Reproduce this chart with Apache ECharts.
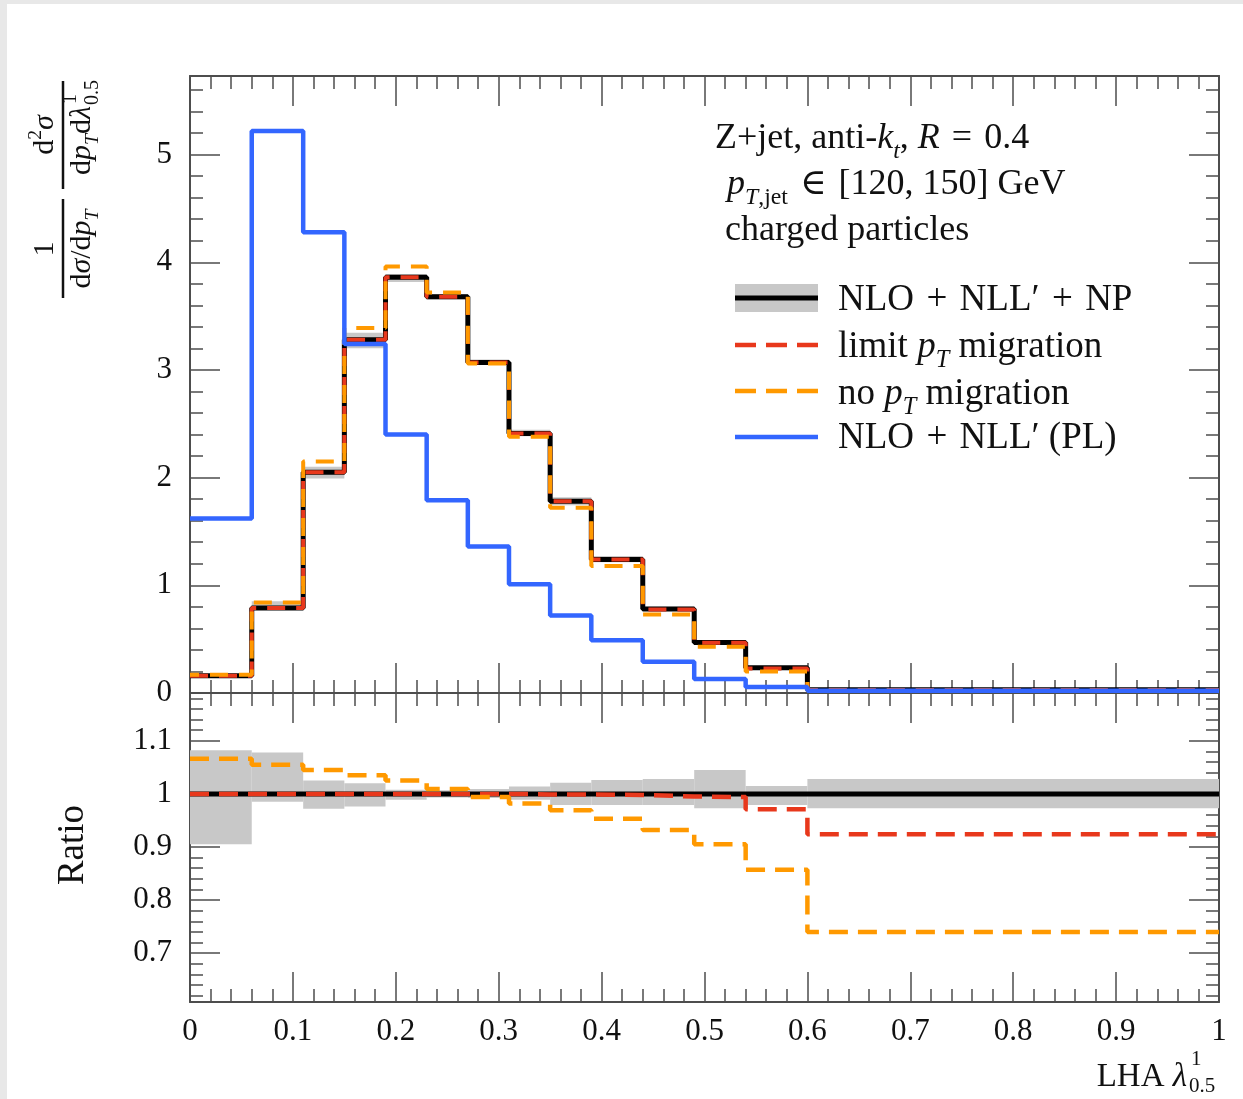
<!DOCTYPE html>
<html>
<head>
<meta charset="utf-8">
<script src="https://cdn.jsdelivr.net/npm/echarts@6/dist/echarts.min.js"></script>
<style>
  html, body { margin: 0; padding: 0; background: #e8e8e8; }
  #chart { width: 1243px; height: 1099px; }
</style>
</head>
<body>
<div id="chart"></div>
<script>
// bin edges of LHA lambda^1_0.5
const edges = [0, 0.06, 0.11, 0.15, 0.19, 0.23, 0.27, 0.31, 0.35, 0.39, 0.44, 0.49, 0.54, 0.60, 1.0];

// upper panel: 1/(dsigma/dpT) d2sigma/(dpT dlambda)
const nloNllNp    = [0.16, 0.79, 2.05, 3.28, 3.86, 3.68, 3.07, 2.41, 1.78, 1.24, 0.78, 0.47, 0.235, 0.03];
const limitPtMig  = [0.16, 0.79, 2.05, 3.28, 3.86, 3.68, 3.07, 2.41, 1.78, 1.24, 0.775, 0.467, 0.228, 0.028];
const noPtMig     = [0.17, 0.84, 2.15, 3.39, 3.96, 3.72, 3.06, 2.38, 1.72, 1.18, 0.73, 0.43, 0.20, 0.022];
const partonLevel = [1.62, 5.22, 4.28, 3.24, 2.40, 1.79, 1.36, 1.01, 0.72, 0.49, 0.29, 0.13, 0.055, 0.02];

// lower panel: ratio to NLO+NLL'+NP
const ratioNp    = [1, 1, 1, 1, 1, 1, 1, 1, 1, 1, 1, 1, 1, 1];
const ratioLimit = [1.0, 1.0, 1.0, 1.0, 1.0, 1.0, 1.0, 0.999, 0.999, 0.998, 0.995, 0.994, 0.971, 0.924];
const ratioNoMig = [1.066, 1.055, 1.045, 1.035, 1.025, 1.009, 0.994, 0.982, 0.969, 0.953, 0.932, 0.905, 0.857, 0.74];
const bandUp     = [1.082, 1.078, 1.025, 1.02, 1.008, 1.007, 1.009, 1.014, 1.021, 1.026, 1.028, 1.045, 1.015, 1.028];
const bandDown   = [0.905, 0.985, 0.972, 0.976, 0.989, 0.993, 0.992, 0.989, 0.979, 0.979, 0.979, 0.973, 0.979, 0.973];

// tick labels
const topTicks = [0, 1, 2, 3, 4, 5];
const ratioTicks = [0.7, 0.8, 0.9, 1.0, 1.1];

const FONT = "'Liberation Serif', 'DejaVu Serif', serif";
const AXIS = '#4d4d4d';
const RED = '#e8381c';
const ORANGE = '#ff9900';
const BLUE = '#3366ff';
const GREY = '#c8c8c8';
const SP = '\u2004';

const topMinor = [];
for (let k = 1; k < 29; k++) if (k % 5) topMinor.push(+(k * 0.2).toFixed(2));
const ratioMinor = [];
for (let k = 31; k < 60; k++) if (k % 5) ratioMinor.push(+(k * 0.02).toFixed(2));

function stepPoints(vals) {
  const pts = vals.map((v, i) => [edges[i], v]);
  pts.push([edges[edges.length - 1], vals[vals.length - 1]]);
  return pts;
}

function bandRows(lo, hi) {
  return lo.map((v, i) => [edges[i], edges[i + 1], v, hi[i]]);
}

function renderBand(params, api) {
  const a = api.coord([api.value(0), api.value(3)]);
  const b = api.coord([api.value(1), api.value(2)]);
  return {
    type: 'rect',
    shape: { x: a[0], y: a[1], width: b[0] - a[0], height: b[1] - a[1] },
    style: { fill: GREY }
  };
}

function xAxis(grid, pos, withLabels) {
  return {
    type: 'value', gridIndex: grid, position: pos, min: 0, max: 1, interval: 0.1,
    axisLine: { show: true, onZero: false, lineStyle: { color: AXIS, width: 2 } },
    axisTick: { show: true, inside: true, length: 30, lineStyle: { color: AXIS, width: 1.5 } },
    minorTick: { show: true, splitNumber: 5, length: 13, lineStyle: { color: AXIS, width: 1.5 } },
    axisLabel: { show: withLabels, margin: 14, fontFamily: FONT, fontSize: 31, color: '#111' },
    splitLine: { show: false }
  };
}

function yAxes(grid, pos, min, max, major, minor, withLabels) {
  return [
    {
      type: 'value', gridIndex: grid, position: pos, min: min, max: max,
      axisLine: { show: true, onZero: false, lineStyle: { color: AXIS, width: 2 } },
      axisTick: { show: true, inside: true, length: 30, customValues: major, lineStyle: { color: AXIS, width: 1.5 } },
      axisLabel: { show: withLabels, customValues: major, margin: 18, fontFamily: FONT, fontSize: 31, color: '#111' },
      splitLine: { show: false }
    },
    {
      type: 'value', gridIndex: grid, position: pos, min: min, max: max,
      axisLine: { show: false, onZero: false },
      axisTick: { show: true, inside: true, length: 13, customValues: minor, lineStyle: { color: AXIS, width: 1.5 } },
      axisLabel: { show: false },
      splitLine: { show: false }
    }
  ];
}

function rich(size) {
  return {
    i: { fontStyle: 'italic', fontSize: size, fontFamily: FONT, fill: '#111' },
    sub: { fontSize: size * 0.66, fontFamily: FONT, padding: [size * 0.72, 0, 0, 0], fill: '#111' },
    subi: { fontStyle: 'italic', fontSize: size * 0.66, fontFamily: FONT, padding: [size * 0.72, 0, 0, 0], fill: '#111' },
    sup: { fontSize: size * 0.66, fontFamily: FONT, padding: [0, 0, size * 0.62, 0], fill: '#111' }
  };
}

function label(text, x, y, size, align) {
  return {
    type: 'text', x: x, y: y, z: 10,
    style: {
      text: text, fontSize: size, fontFamily: FONT, fill: '#111',
      align: align || 'left', verticalAlign: 'middle', rich: rich(size)
    }
  };
}

function legendLine(y, color, width, dash) {
  return {
    type: 'line', z: 10,
    shape: { x1: 735, y1: y, x2: 818, y2: y },
    style: { stroke: color, lineWidth: width, lineDash: dash || null }
  };
}

const chart = echarts.init(document.getElementById('chart'));

chart.setOption({
  animation: false,
  backgroundColor: '#e8e8e8',
  grid: [
    { left: 190, top: 76, width: 1029, height: 617 },
    { left: 190, top: 693, width: 1029, height: 309 }
  ],
  xAxis: [
    xAxis(0, 'bottom', false),
    xAxis(0, 'top', false),
    xAxis(1, 'bottom', true),
    xAxis(1, 'top', false)
  ],
  yAxis: [].concat(
    yAxes(0, 'left', 0, 5.73, topTicks, topMinor, true),
    yAxes(0, 'right', 0, 5.73, topTicks, topMinor, false),
    yAxes(1, 'left', 0.608, 1.19, ratioTicks, ratioMinor, true),
    yAxes(1, 'right', 0.608, 1.19, ratioTicks, ratioMinor, false)
  ),
  series: [
    {
      type: 'custom', xAxisIndex: 0, yAxisIndex: 0, z: 1, clip: true,
      renderItem: renderBand, encode: { x: [0, 1], y: [2, 3] },
      data: bandRows(nloNllNp.map((v, i) => v * bandDown[i]), nloNllNp.map((v, i) => v * bandUp[i]))
    },
    {
      type: 'line', xAxisIndex: 0, yAxisIndex: 0, step: 'end', symbol: 'none', z: 2,
      lineStyle: { color: '#000', width: 5 }, data: stepPoints(nloNllNp)
    },
    {
      type: 'line', xAxisIndex: 0, yAxisIndex: 0, step: 'end', symbol: 'none', z: 3,
      lineStyle: { color: RED, width: 4, type: [18, 11] }, data: stepPoints(limitPtMig)
    },
    {
      type: 'line', xAxisIndex: 0, yAxisIndex: 0, step: 'end', symbol: 'none', z: 4,
      lineStyle: { color: ORANGE, width: 4, type: [18, 11], dashOffset: 9 }, data: stepPoints(noPtMig)
    },
    {
      type: 'line', xAxisIndex: 0, yAxisIndex: 0, step: 'end', symbol: 'none', z: 5,
      lineStyle: { color: BLUE, width: 4.5 }, data: stepPoints(partonLevel)
    },
    {
      type: 'custom', xAxisIndex: 2, yAxisIndex: 4, z: 1, clip: true,
      renderItem: renderBand, encode: { x: [0, 1], y: [2, 3] },
      data: bandRows(bandDown, bandUp)
    },
    {
      type: 'line', xAxisIndex: 2, yAxisIndex: 4, step: 'end', symbol: 'none', z: 2,
      lineStyle: { color: '#000', width: 5 }, data: stepPoints(ratioNp)
    },
    {
      type: 'line', xAxisIndex: 2, yAxisIndex: 4, step: 'end', symbol: 'none', z: 3,
      lineStyle: { color: RED, width: 4.5, type: [19, 10] }, data: stepPoints(ratioLimit)
    },
    {
      type: 'line', xAxisIndex: 2, yAxisIndex: 4, step: 'end', symbol: 'none', z: 4,
      lineStyle: { color: ORANGE, width: 4.5, type: [19, 10] }, data: stepPoints(ratioNoMig)
    }
  ],
  graphic: {
    elements: [
      { type: 'rect', z: -10, shape: { x: 7, y: 4, width: 1236, height: 1095 }, style: { fill: '#ffffff' } },

      // info text
      label('Z+jet, anti-{i|k}{subi|t}, {i|R}' + SP + '=' + SP + '0.4', 715, 139, 36),
      label('{i|p}{subi|T}{sub|,jet}' + SP + '∈' + SP + '[120, 150] GeV', 727, 185, 36),
      label('charged particles', 725, 231, 36),

      // legend
      { type: 'rect', z: 10, shape: { x: 735, y: 284, width: 83, height: 28 }, style: { fill: GREY } },
      legendLine(298, '#000', 5),
      legendLine(345, RED, 4.5, [21, 10]),
      legendLine(391, ORANGE, 4.5, [21, 10]),
      legendLine(437, BLUE, 4.5),
      label('NLO' + SP + '+' + SP + 'NLL′' + SP + '+' + SP + 'NP', 838, 300, 37),
      label('limit {i|p}{subi|T} migration', 838, 347, 37),
      label('no {i|p}{subi|T} migration', 838, 394, 37),
      label('NLO' + SP + '+' + SP + 'NLL′ (PL)', 838, 438, 37),

      // x axis title
      label('LHA {i|λ}', 1187, 1077, 33, 'right'),
      label('1', 1191, 1059, 21),
      label('0.5', 1189, 1086, 21),

      // ratio title
      {
        type: 'text', x: 73, y: 845, rotation: Math.PI / 2, z: 10,
        style: { text: 'Ratio', fontSize: 37, fontFamily: FONT, fill: '#111', align: 'center', verticalAlign: 'middle' }
      },

      // y axis title (two stacked fractions, rotated)
      {
        type: 'group', x: 63, y: 298, rotation: Math.PI / 2, z: 10,
        children: [
          { type: 'line', shape: { x1: 0, y1: 0, x2: 99, y2: 0 }, style: { stroke: '#111', lineWidth: 2.5 } },
          label('1', 49, -18, 30, 'center'),
          label('d{i|σ}/d{i|p}{subi|T}', 49, 19, 30, 'center'),
          { type: 'line', shape: { x1: 109, y1: 0, x2: 217, y2: 0 }, style: { stroke: '#111', lineWidth: 2.5 } },
          label('d{sup|2}{i|σ}', 163, -18, 30, 'center'),
          label('d{i|p}{subi|T}d{i|λ}', 192, 19, 30, 'right'),
          label('1', 194, 8, 20),
          label('0.5', 193, 30, 20)
        ]
      }
    ]
  }
});
</script>
</body>
</html>
